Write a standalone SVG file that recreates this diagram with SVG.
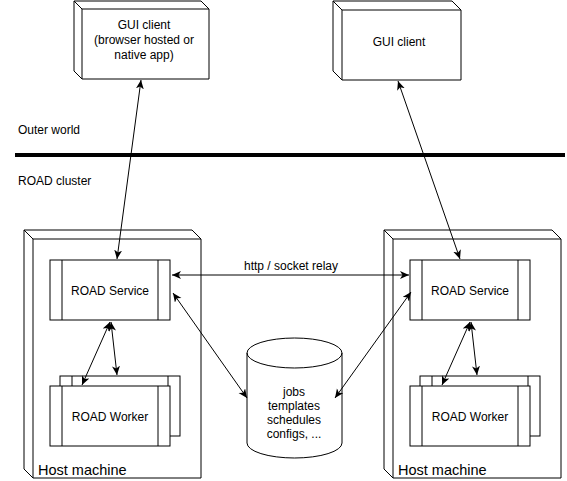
<svg xmlns="http://www.w3.org/2000/svg" width="567" height="481" viewBox="0 0 567 481">
<style>
.s{fill:#fff;stroke:#000;stroke-width:1}
.l{fill:none;stroke:#000;stroke-width:1}
.c{fill:none;stroke:#000;stroke-width:1}
text{font-family:"Liberation Sans",Arial,sans-serif;font-size:12px;fill:#000}
.m{text-anchor:middle}
.h{font-size:14.5px}
</style>
<defs>
<marker id="a" markerUnits="userSpaceOnUse" markerWidth="12" markerHeight="10" refX="9" refY="4" orient="auto-start-reverse">
<path d="M0,0 L9,4 L0,8 L2.5,4 Z" fill="#000"/>
</marker>
</defs>
<rect width="567" height="481" fill="#fff"/>
<g id="labels">
<text x="18" y="134">Outer world</text>
<text x="18" y="185">ROAD cluster</text>
<line x1="15" y1="155" x2="565" y2="155" stroke="#000" stroke-width="4"/>
</g>
<g id="host-left">
<path class="s" d="M24,230 H192 L201,239 V478 H33 L24,469 Z"/>
<path class="l" d="M24,230 L33,239 H201 M33,239 V478"/>
<text class="h" x="38" y="475">Host machine</text>
</g>
<g id="host-right">
<path class="s" d="M384,230 H552 L561,239 V478 H393 L384,469 Z"/>
<path class="l" d="M384,230 L393,239 H561 M393,239 V478"/>
<text class="h" x="398" y="475">Host machine</text>
</g>
<g id="gui-left">
<path class="s" d="M74,1 H201 L209,9 V79 H82 L74,71 Z"/>
<path class="l" d="M74,1 L82,9 H209 M82,9 V79"/>
<text class="m" x="144" y="29">GUI client</text>
<text class="m" x="144" y="44">(browser hosted or</text>
<text class="m" x="144" y="59">native app)</text>
</g>
<g id="gui-right">
<path class="s" d="M333,1 H452 L461,10 V80 H342 L333,71 Z"/>
<path class="l" d="M333,1 L342,10 H461 M342,10 V80"/>
<text class="m" x="399" y="46">GUI client</text>
</g>
<g id="service-left">
<rect class="s" x="50" y="260" width="120" height="60"/>
<path class="l" d="M62,260 V320 M158,260 V320"/>
<text class="m" x="110" y="295">ROAD Service</text>
</g>
<g id="worker-left">
<rect class="s" x="60" y="376" width="120" height="60"/>
<path class="l" d="M72,376 V436 M168,376 V436"/>
<rect class="s" x="50" y="386" width="120" height="60"/>
<path class="l" d="M62,386 V446 M158,386 V446"/>
<text class="m" x="110" y="421">ROAD Worker</text>
</g>
<g id="service-right">
<rect class="s" x="410" y="260" width="120" height="60"/>
<path class="l" d="M422,260 V320 M518,260 V320"/>
<text class="m" x="470" y="295">ROAD Service</text>
</g>
<g id="worker-right">
<rect class="s" x="420" y="376" width="120" height="60"/>
<path class="l" d="M432,376 V436 M528,376 V436"/>
<rect class="s" x="410" y="386" width="120" height="60"/>
<path class="l" d="M422,386 V446 M518,386 V446"/>
<text class="m" x="470" y="421">ROAD Worker</text>
</g>
<g id="store">
<path class="s" d="M247,353 A47.5,15 0 0 1 342,353 V443 A47.5,15 0 0 1 247,443 Z"/>
<path class="l" d="M247,353 A47.5,15 0 0 0 342,353"/>
<text class="m" x="294" y="396">jobs</text>
<text class="m" x="294" y="410">templates</text>
<text class="m" x="294" y="424">schedules</text>
<text class="m" x="294" y="438">configs, ...</text>
</g>
<g id="connectors">
<line class="c" x1="141" y1="80" x2="117" y2="259" marker-start="url(#a)" marker-end="url(#a)"/>
<line class="c" x1="398" y1="81" x2="460" y2="259" marker-start="url(#a)" marker-end="url(#a)"/>
<line class="c" x1="172" y1="275" x2="409" y2="275" marker-start="url(#a)" marker-end="url(#a)"/>
<text class="m" x="291" y="270">http / socket relay</text>
<line class="c" x1="173" y1="293" x2="247" y2="398" marker-start="url(#a)" marker-end="url(#a)"/>
<line class="c" x1="411" y1="292" x2="335" y2="398" marker-start="url(#a)" marker-end="url(#a)"/>
<line class="c" x1="110" y1="322" x2="82" y2="385" marker-start="url(#a)" marker-end="url(#a)"/>
<line class="c" x1="111" y1="322" x2="117" y2="375" marker-start="url(#a)" marker-end="url(#a)"/>
<line class="c" x1="470" y1="322" x2="442" y2="385" marker-start="url(#a)" marker-end="url(#a)"/>
<line class="c" x1="471" y1="322" x2="477" y2="375" marker-start="url(#a)" marker-end="url(#a)"/>
</g>
</svg>
